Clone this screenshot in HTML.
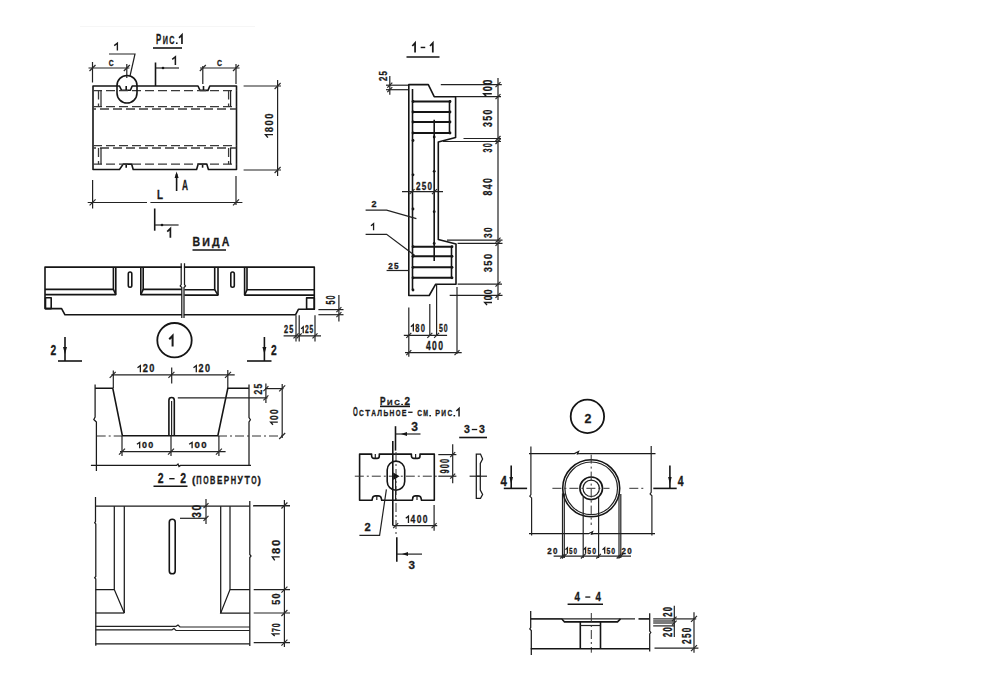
<!DOCTYPE html>
<html><head><meta charset="utf-8"><style>
html,body{margin:0;padding:0;background:#fff;width:990px;height:683px;overflow:hidden}
svg{display:block}
.o{fill:none;stroke:#151515;stroke-width:1.6;stroke-linejoin:round}
.rb{fill:none;stroke:#151515;stroke-width:2.1}
.m{fill:none;stroke:#1a1a1a;stroke-width:1.25}
.ot2{fill:none;stroke:#151515;stroke-width:1.8}
.ot{fill:none;stroke:#151515;stroke-width:2.4}
.d{fill:none;stroke:#222;stroke-width:1.2}
.k{fill:none;stroke:#2a2a2a;stroke-width:1.2}
.dash{fill:none;stroke:#3a3a3a;stroke-width:1.3;stroke-dasharray:9 4}
.dd{fill:none;stroke:#333;stroke-width:1;stroke-dasharray:9 3 2 3}
.f{fill:#151515;stroke:none}
.t{font-family:"Liberation Sans",sans-serif;fill:#1a1a1a;font-weight:bold;stroke:#1a1a1a;stroke-width:0.3}
</style></head><body>
<svg width="990" height="683" viewBox="0 0 990 683">
<line x1="80" y1="26.5" x2="255" y2="26.5" stroke="#f6f6f6" stroke-width="1.2"/>
<g transform="translate(156,44)" class="t"><text x="0.00" y="0" font-size="14.29" textLength="5.20" lengthAdjust="spacingAndGlyphs">Р</text><text x="6.66" y="0" font-size="10.57" textLength="5.20" lengthAdjust="spacingAndGlyphs">И</text><text x="13.33" y="0" font-size="10.57" textLength="5.20" lengthAdjust="spacingAndGlyphs">С</text><rect x="19.95" y="-1.60" width="1.62" height="1.60" class="f"/><path d="M25.96,0 V-9.15 L23.05,-6.20" fill="none" stroke-width="1.70" stroke-linecap="butt" stroke-linejoin="miter"/></g>
<line x1="153" y1="48" x2="182" y2="48" class="o"/>
<g transform="translate(114,50.6)" class="t"><path d="M3.38,0 V-7.41 L0.23,-5.02" fill="none" stroke-width="1.38" stroke-linecap="butt" stroke-linejoin="miter"/></g>
<polyline points="109,54 135,54 130,76" class="d"/>
<line x1="88.5" y1="68" x2="129.4" y2="68" class="d"/>
<line x1="92.5" y1="62" x2="92.5" y2="82.5" class="d"/>
<line x1="126.8" y1="64" x2="126.8" y2="78" class="d"/>
<line x1="89.5" y1="71" x2="95.5" y2="65" class="k"/>
<line x1="123.8" y1="71" x2="129.8" y2="65" class="k"/>
<g transform="translate(108.7,65.5)" class="t"><text x="0.00" y="0" font-size="8.57" textLength="4.90" lengthAdjust="spacingAndGlyphs">C</text></g>
<line x1="155.5" y1="62.5" x2="155.5" y2="86" class="o"/>
<line x1="155.5" y1="68" x2="179" y2="68" class="d"/>
<circle cx="163" cy="68" r="1.3" class="f"/>
<g transform="translate(172,65)" class="t"><path d="M3.38,0 V-8.23 L0.23,-5.58" fill="none" stroke-width="1.53" stroke-linecap="butt" stroke-linejoin="miter"/></g>
<line x1="200" y1="68" x2="239.6" y2="68" class="d"/>
<line x1="202.8" y1="66" x2="202.8" y2="84" class="d"/>
<line x1="236" y1="64" x2="236" y2="84" class="d"/>
<line x1="199.8" y1="71" x2="205.8" y2="65" class="k"/>
<line x1="233" y1="71" x2="239" y2="65" class="k"/>
<g transform="translate(217,65.5)" class="t"><text x="0.00" y="0" font-size="8.71" textLength="5.00" lengthAdjust="spacingAndGlyphs">C</text></g>
<path d="M93,86 H119.5 L121.6,90.3 H130.4 L132.2,86 H198 L200,90.4 H208 L209.8,86 H236.5 V169.5 H208.4 L206.8,164.1 H198.2 L196.6,169.5 H133.2 L131.6,164.1 H123.2 L119.5,169.5 H93 Z" class="o"/>
<line x1="126.2" y1="86" x2="126.2" y2="90" class="o"/>
<line x1="203.5" y1="86" x2="203.5" y2="90" class="o"/>
<line x1="126.2" y1="164.1" x2="126.2" y2="167.7" class="o"/>
<line x1="202.6" y1="164.1" x2="202.6" y2="167.7" class="o"/>
<line x1="93" y1="90.6" x2="236.5" y2="90.6" class="dash" stroke-dashoffset="0"/>
<line x1="93" y1="106.7" x2="236.5" y2="106.7" class="dash" stroke-dashoffset="0"/>
<line x1="93" y1="109" x2="236.5" y2="109" class="dash" stroke-dashoffset="6"/>
<line x1="93" y1="145.6" x2="236.5" y2="145.6" class="dash" stroke-dashoffset="0"/>
<line x1="93" y1="148" x2="236.5" y2="148" class="dash" stroke-dashoffset="6"/>
<line x1="93" y1="164.2" x2="236.5" y2="164.2" class="dash" stroke-dashoffset="0"/>
<line x1="98.5" y1="90.6" x2="98.5" y2="106.7" class="dash"/>
<line x1="101" y1="90.6" x2="101" y2="106.7" class="d"/>
<line x1="228.6" y1="90.6" x2="228.6" y2="106.7" class="dash"/>
<line x1="230.6" y1="90.6" x2="230.6" y2="106.7" class="d"/>
<line x1="98.5" y1="148" x2="98.5" y2="164.2" class="dash"/>
<line x1="101" y1="148" x2="101" y2="164.2" class="d"/>
<line x1="228.6" y1="148" x2="228.6" y2="164.2" class="dash"/>
<line x1="230.6" y1="148" x2="230.6" y2="164.2" class="d"/>
<path d="M117,85.5 A10,10 0 0 1 137,85.5 V93 A10,10 0 0 1 117,93 Z" class="o"/>
<line x1="277.6" y1="80" x2="277.6" y2="176" class="d"/>
<line x1="243.6" y1="86" x2="281" y2="86" class="d"/>
<line x1="243.6" y1="170" x2="281" y2="170" class="d"/>
<line x1="274.6" y1="89" x2="280.6" y2="83" class="k"/>
<line x1="274.6" y1="173" x2="280.6" y2="167" class="k"/>
<g transform="translate(273,137.8) rotate(-90)" class="t"><path d="M3.16,0 V-7.50 L0.21,-5.08" fill="none" stroke-width="1.39" stroke-linecap="butt" stroke-linejoin="miter"/><text x="5.55" y="0" font-size="11.71" textLength="5.26" lengthAdjust="spacingAndGlyphs">8</text><text x="12.29" y="0" font-size="11.71" textLength="5.26" lengthAdjust="spacingAndGlyphs">0</text><text x="19.04" y="0" font-size="11.71" textLength="5.26" lengthAdjust="spacingAndGlyphs">0</text></g>
<line x1="176.6" y1="174" x2="176.6" y2="191" class="o"/>
<path d="M176.6,171.5 L174.6,178 L178.6,178 Z" class="f"/>
<g transform="translate(182,190)" class="t"><text x="0.00" y="0" font-size="14.29" textLength="6.00" lengthAdjust="spacingAndGlyphs">A</text></g>
<line x1="87.7" y1="202.5" x2="147" y2="202.5" class="d"/>
<line x1="150.4" y1="202.5" x2="242.4" y2="202.5" class="d"/>
<line x1="92.6" y1="180" x2="92.6" y2="208.5" class="d"/>
<line x1="236" y1="176" x2="236" y2="205" class="d"/>
<line x1="89.6" y1="205.4" x2="95.6" y2="199.4" class="k"/>
<line x1="233" y1="205.4" x2="239" y2="199.4" class="k"/>
<g transform="translate(157,199)" class="t"><text x="0.00" y="0" font-size="12.86" textLength="6.00" lengthAdjust="spacingAndGlyphs">L</text></g>
<line x1="154.7" y1="208.5" x2="154.7" y2="230.7" class="o"/>
<line x1="154.7" y1="225" x2="178.6" y2="225" class="d"/>
<circle cx="162" cy="225" r="1.3" class="f"/>
<g transform="translate(167,237.8)" class="t"><path d="M3.38,0 V-9.24 L0.23,-6.26" fill="none" stroke-width="1.72" stroke-linecap="butt" stroke-linejoin="miter"/></g>
<g transform="translate(192.5,245.8)" class="t"><text x="0.00" y="0" font-size="13.57" textLength="7.63" lengthAdjust="spacingAndGlyphs">В</text><text x="9.79" y="0" font-size="10.04" textLength="7.63" lengthAdjust="spacingAndGlyphs">И</text><text x="19.58" y="0" font-size="10.04" textLength="7.63" lengthAdjust="spacingAndGlyphs">Д</text><text x="29.37" y="0" font-size="13.57" textLength="7.63" lengthAdjust="spacingAndGlyphs">А</text></g>
<line x1="192.5" y1="250" x2="226" y2="250" class="o"/>
<path d="M45,267.1 H314.3 V309.3 H298.4 L295.5,314.8 H65 L61.6,308.6 H45 Z" class="o"/>
<rect x="45.5" y="297.8" width="5.7" height="10.8" rx="0" class="o"/>
<rect x="306.6" y="297.9" width="7.7" height="11.3" rx="0" class="o"/>
<polyline points="45,289.4 113.4,289.4 113.4,267.1" class="o"/>
<polyline points="45,294.6 115.8,294.6 115.8,267.1" class="o"/>
<polyline points="182,289.4 143.2,289.4 143.2,267.1" class="o"/>
<polyline points="182,294.6 140.8,294.6 140.8,267.1" class="o"/>
<polyline points="184.4,289.7 214.7,289.7 214.7,267.1" class="o"/>
<polyline points="184.4,295.1 218,295.1 218,267.1" class="o"/>
<polyline points="314,289.7 247,289.7 247,267.1" class="o"/>
<polyline points="314,295.1 244.6,295.1 244.6,267.1" class="o"/>
<line x1="113.4" y1="289.4" x2="115.8" y2="294.6" class="o"/>
<line x1="143.2" y1="289.4" x2="140.8" y2="294.6" class="o"/>
<line x1="214.7" y1="289.7" x2="218" y2="295.1" class="o"/>
<line x1="247" y1="289.7" x2="244.6" y2="295.1" class="o"/>
<rect x="128.3" y="272" width="3.5" height="15.3" rx="1.7" class="o"/>
<rect x="230.8" y="272" width="3.5" height="15.3" rx="1.7" class="o"/>
<rect x="181.9" y="262" width="2" height="56" fill="#fff"/>
<path d="M181.2,263.3 V284.5 L180.2,286 L181.8,287.5 V317.9" class="m"/>
<path d="M184.5,263.3 V284.5 L185.5,286 L184,287.5 V317.9" class="m"/>
<line x1="318.4" y1="309.6" x2="343.5" y2="309.6" class="d"/>
<line x1="318.4" y1="314.7" x2="343.5" y2="314.7" class="d"/>
<line x1="338.9" y1="294.9" x2="338.9" y2="321.5" class="d"/>
<line x1="336.4" y1="312.1" x2="341.4" y2="307.1" class="k"/>
<line x1="336.4" y1="317.2" x2="341.4" y2="312.2" class="k"/>
<g transform="translate(335.3,304.6) rotate(-90)" class="t"><text x="0.00" y="0" font-size="12.43" textLength="4.03" lengthAdjust="spacingAndGlyphs">5</text><text x="5.17" y="0" font-size="12.43" textLength="4.03" lengthAdjust="spacingAndGlyphs">0</text></g>
<line x1="296" y1="315.3" x2="296" y2="341.5" class="d"/>
<line x1="299.2" y1="315.3" x2="299.2" y2="341.5" class="d"/>
<line x1="315" y1="315.3" x2="315" y2="341.5" class="d"/>
<line x1="283.6" y1="335.8" x2="321" y2="335.8" class="d"/>
<line x1="293.5" y1="338.3" x2="298.5" y2="333.3" class="k"/>
<line x1="296.7" y1="338.3" x2="301.7" y2="333.3" class="k"/>
<line x1="312.5" y1="338.3" x2="317.5" y2="333.3" class="k"/>
<g transform="translate(284,333.3)" class="t"><text x="0.00" y="0" font-size="10.29" textLength="4.08" lengthAdjust="spacingAndGlyphs">2</text><text x="5.22" y="0" font-size="10.29" textLength="4.08" lengthAdjust="spacingAndGlyphs">5</text></g>
<g transform="translate(301,333.3)" class="t"><path d="M2.21,0 V-6.55 L0.15,-4.46" fill="none" stroke-width="1.30" stroke-linecap="butt" stroke-linejoin="miter"/><text x="3.89" y="0" font-size="10.29" textLength="3.69" lengthAdjust="spacingAndGlyphs">2</text><text x="8.61" y="0" font-size="10.29" textLength="3.69" lengthAdjust="spacingAndGlyphs">5</text></g>
<circle cx="174.5" cy="340.2" r="17.2" class="ot2"/>
<g transform="translate(169,346.5)" class="t"><path d="M3.60,0 V-10.80 L0.24,-7.32" fill="none" stroke-width="2.01" stroke-linecap="butt" stroke-linejoin="miter"/></g>
<g transform="translate(50.5,354.9)" class="t"><text x="0.00" y="0" font-size="14.14" textLength="5.70" lengthAdjust="spacingAndGlyphs">2</text></g>
<line x1="65" y1="337" x2="65" y2="361" class="o"/>
<path d="M65,354 L63,347 L67,347 Z" class="f"/>
<line x1="58" y1="361" x2="82" y2="361" class="o"/>
<line x1="264.4" y1="337" x2="264.4" y2="361" class="o"/>
<path d="M264.4,354 L262.4,347 L266.4,347 Z" class="f"/>
<line x1="247" y1="361" x2="271.5" y2="361" class="o"/>
<g transform="translate(271,355)" class="t"><text x="0.00" y="0" font-size="14.29" textLength="5.70" lengthAdjust="spacingAndGlyphs">2</text></g>
<line x1="111.4" y1="374.8" x2="234.7" y2="374.8" class="d"/>
<line x1="109.7" y1="377.8" x2="115.7" y2="371.8" class="k"/>
<line x1="168.4" y1="377.8" x2="174.4" y2="371.8" class="k"/>
<line x1="225" y1="377.8" x2="231" y2="371.8" class="k"/>
<g transform="translate(137.3,372.2)" class="t"><path d="M3.08,0 V-6.55 L0.21,-4.46" fill="none" stroke-width="1.30" stroke-linecap="butt" stroke-linejoin="miter"/><text x="5.40" y="0" font-size="10.29" textLength="5.13" lengthAdjust="spacingAndGlyphs">2</text><text x="11.97" y="0" font-size="10.29" textLength="5.13" lengthAdjust="spacingAndGlyphs">0</text></g>
<g transform="translate(193.3,372.2)" class="t"><path d="M3.00,0 V-6.55 L0.20,-4.46" fill="none" stroke-width="1.30" stroke-linecap="butt" stroke-linejoin="miter"/><text x="5.28" y="0" font-size="10.29" textLength="5.01" lengthAdjust="spacingAndGlyphs">2</text><text x="11.69" y="0" font-size="10.29" textLength="5.01" lengthAdjust="spacingAndGlyphs">0</text></g>
<line x1="113.3" y1="370.5" x2="113.3" y2="388" class="d"/>
<line x1="227.8" y1="370" x2="227.8" y2="388" class="d"/>
<line x1="171.7" y1="367.6" x2="171.7" y2="383.6" class="d"/>
<polyline points="95.1,388.3 112.8,388.3 122.4,435.8 217.8,435.8 227.8,388.3 248.9,388.3" class="o"/>
<path d="M95.1,384.4 V417 L93.8,419.5 L96.4,422 V471" class="m"/>
<path d="M249,384.4 V417.5 L250.4,419.8 L249,422 V465.4" class="m"/>
<line x1="96.7" y1="436" x2="122" y2="436" class="dd"/>
<line x1="218" y1="436" x2="282" y2="436" class="dd"/>
<path d="M90.9,465.4 H176.5 L178,464 L179,466.5 L180.5,465.4 H251" class="m"/>
<path d="M168.9,436 V400.2 A2.7,2.7 0 0 1 174.3,400.2 V436" class="o"/>
<line x1="171.6" y1="401" x2="171.6" y2="436" class="d"/>
<line x1="177.8" y1="397.9" x2="267.5" y2="397.9" class="d"/>
<line x1="265.9" y1="383.6" x2="265.9" y2="403" class="d"/>
<line x1="265" y1="388.6" x2="283.5" y2="388.6" class="d"/>
<line x1="263.4" y1="391.1" x2="268.4" y2="386.1" class="k"/>
<line x1="263.4" y1="400.4" x2="268.4" y2="395.4" class="k"/>
<g transform="translate(261.6,394.5) rotate(-90)" class="t"><text x="0.00" y="0" font-size="11.43" textLength="4.78" lengthAdjust="spacingAndGlyphs">2</text><text x="6.12" y="0" font-size="11.43" textLength="4.78" lengthAdjust="spacingAndGlyphs">5</text></g>
<line x1="282.2" y1="384" x2="282.2" y2="438" class="d"/>
<line x1="279.2" y1="391.3" x2="285.2" y2="385.3" class="k"/>
<line x1="279.2" y1="439" x2="285.2" y2="433" class="k"/>
<g transform="translate(277.8,425) rotate(-90)" class="t"><path d="M2.81,0 V-7.14 L0.19,-4.84" fill="none" stroke-width="1.33" stroke-linecap="butt" stroke-linejoin="miter"/><text x="4.93" y="0" font-size="11.14" textLength="4.68" lengthAdjust="spacingAndGlyphs">0</text><text x="10.92" y="0" font-size="11.14" textLength="4.68" lengthAdjust="spacingAndGlyphs">0</text></g>
<line x1="120" y1="451.7" x2="225.6" y2="451.7" class="d"/>
<line x1="122" y1="436" x2="122" y2="456" class="d"/>
<line x1="119" y1="454.7" x2="125" y2="448.7" class="k"/>
<line x1="171" y1="436" x2="171" y2="456" class="d"/>
<line x1="168" y1="454.7" x2="174" y2="448.7" class="k"/>
<line x1="218.9" y1="436" x2="218.9" y2="456" class="d"/>
<line x1="215.9" y1="454.7" x2="221.9" y2="448.7" class="k"/>
<g transform="translate(136.7,448.3)" class="t"><path d="M2.99,0 V-5.95 L0.20,-4.09" fill="none" stroke-width="1.30" stroke-linecap="butt" stroke-linejoin="miter"/><text x="5.24" y="0" font-size="9.43" textLength="4.98" lengthAdjust="spacingAndGlyphs">0</text><text x="11.62" y="0" font-size="9.43" textLength="4.98" lengthAdjust="spacingAndGlyphs">0</text></g>
<g transform="translate(188.9,448.3)" class="t"><path d="M3.20,0 V-5.95 L0.21,-4.09" fill="none" stroke-width="1.30" stroke-linecap="butt" stroke-linejoin="miter"/><text x="5.62" y="0" font-size="9.43" textLength="5.34" lengthAdjust="spacingAndGlyphs">0</text><text x="12.46" y="0" font-size="9.43" textLength="5.34" lengthAdjust="spacingAndGlyphs">0</text></g>
<g transform="translate(157.8,483.4)" class="t"><text x="0.00" y="0" font-size="14.00" textLength="5.82" lengthAdjust="spacingAndGlyphs">2</text><rect x="11.41" y="-5.39" width="5.37" height="1.37" class="f"/><text x="22.38" y="0" font-size="14.00" textLength="5.82" lengthAdjust="spacingAndGlyphs">2</text></g>
<line x1="153.5" y1="486.3" x2="187.5" y2="486.3" class="o"/>
<g transform="translate(192,483.6)" class="t"><text x="0.00" y="0" font-size="10.57" textLength="3.40" lengthAdjust="spacingAndGlyphs">(</text><text x="4.34" y="0" font-size="10.57" textLength="5.36" lengthAdjust="spacingAndGlyphs">П</text><text x="11.21" y="0" font-size="10.57" textLength="5.36" lengthAdjust="spacingAndGlyphs">О</text><text x="18.08" y="0" font-size="10.57" textLength="5.36" lengthAdjust="spacingAndGlyphs">В</text><text x="24.95" y="0" font-size="10.57" textLength="5.36" lengthAdjust="spacingAndGlyphs">Е</text><text x="31.82" y="0" font-size="10.57" textLength="5.36" lengthAdjust="spacingAndGlyphs">Р</text><text x="38.69" y="0" font-size="10.57" textLength="5.36" lengthAdjust="spacingAndGlyphs">Н</text><text x="45.56" y="0" font-size="10.57" textLength="5.36" lengthAdjust="spacingAndGlyphs">У</text><text x="52.43" y="0" font-size="10.57" textLength="5.36" lengthAdjust="spacingAndGlyphs">Т</text><text x="59.30" y="0" font-size="10.57" textLength="5.36" lengthAdjust="spacingAndGlyphs">О</text><text x="65.60" y="0" font-size="10.57" textLength="3.40" lengthAdjust="spacingAndGlyphs">)</text></g>
<line x1="95.5" y1="506.2" x2="249.5" y2="506.2" class="m"/>
<line x1="253" y1="505.8" x2="290" y2="505.8" class="d"/>
<path d="M95.5,497 V521.5 L94.7,522.8 L95.8,524 V576.5 L94.7,577.8 L95.8,579 V645.7" class="m"/>
<path d="M249.8,501 V554.5 L251,556 L249.8,557.5 V646" class="m"/>
<line x1="114.3" y1="506.2" x2="114.3" y2="589.5" class="m"/>
<polyline points="95.5,589.5 114.3,589.5 124.3,613" class="m"/>
<line x1="124.3" y1="506.2" x2="124.3" y2="613" class="m"/>
<line x1="95.5" y1="613" x2="124.3" y2="613" class="m"/>
<line x1="220.7" y1="506.2" x2="220.7" y2="613" class="m"/>
<line x1="230" y1="506.2" x2="230" y2="589.5" class="m"/>
<polyline points="249.8,589.5 230,589.5 220.7,613 249.8,613" class="m"/>
<path d="M95.5,626.3 H176 L178,625 L180,627 H249.8" class="d"/>
<path d="M95.5,629.8 H172 L174,628.5 L176,630.5 H249.8" class="d"/>
<line x1="95.5" y1="643.9" x2="249.8" y2="643.9" class="m"/>
<rect x="169.3" y="519.3" width="5.9" height="54.5" rx="2.9" class="o"/>
<line x1="206" y1="499" x2="206" y2="524" class="d"/>
<line x1="180" y1="518.3" x2="206" y2="518.3" class="d"/>
<line x1="203.5" y1="508.2" x2="208.5" y2="503.2" class="k"/>
<line x1="203.5" y1="520.8" x2="208.5" y2="515.8" class="k"/>
<g transform="translate(201.3,517.8) rotate(-90)" class="t"><text x="0.00" y="0" font-size="12.29" textLength="5.61" lengthAdjust="spacingAndGlyphs">3</text><text x="7.19" y="0" font-size="12.29" textLength="5.61" lengthAdjust="spacingAndGlyphs">0</text></g>
<line x1="284.4" y1="500" x2="284.4" y2="647" class="d"/>
<line x1="253.7" y1="505.5" x2="290" y2="505.5" class="d"/>
<line x1="281.4" y1="508.5" x2="287.4" y2="502.5" class="k"/>
<line x1="253.7" y1="589.7" x2="290" y2="589.7" class="d"/>
<line x1="281.4" y1="592.7" x2="287.4" y2="586.7" class="k"/>
<line x1="253.7" y1="613" x2="290" y2="613" class="d"/>
<line x1="281.4" y1="616" x2="287.4" y2="610" class="k"/>
<line x1="253.7" y1="642.6" x2="290" y2="642.6" class="d"/>
<line x1="281.4" y1="645.6" x2="287.4" y2="639.6" class="k"/>
<g transform="translate(279.7,560.6) rotate(-90)" class="t"><path d="M3.74,0 V-7.32 L0.25,-4.96" fill="none" stroke-width="1.36" stroke-linecap="butt" stroke-linejoin="miter"/><text x="6.57" y="0" font-size="11.43" textLength="6.24" lengthAdjust="spacingAndGlyphs">8</text><text x="14.56" y="0" font-size="11.43" textLength="6.24" lengthAdjust="spacingAndGlyphs">0</text></g>
<g transform="translate(279.7,604.8) rotate(-90)" class="t"><text x="0.00" y="0" font-size="11.43" textLength="5.00" lengthAdjust="spacingAndGlyphs">5</text><text x="6.40" y="0" font-size="11.43" textLength="5.00" lengthAdjust="spacingAndGlyphs">0</text></g>
<g transform="translate(279.7,636.2) rotate(-90)" class="t"><path d="M2.32,0 V-7.32 L0.15,-4.96" fill="none" stroke-width="1.36" stroke-linecap="butt" stroke-linejoin="miter"/><text x="4.08" y="0" font-size="11.43" textLength="3.87" lengthAdjust="spacingAndGlyphs">7</text><text x="9.03" y="0" font-size="11.43" textLength="3.87" lengthAdjust="spacingAndGlyphs">0</text></g>
<g transform="translate(412.1,52.4)" class="t"><path d="M2.97,0 V-9.42 L0.20,-6.39" fill="none" stroke-width="1.75" stroke-linecap="butt" stroke-linejoin="miter"/><rect x="8.57" y="-5.66" width="4.56" height="1.44" class="f"/><path d="M20.71,0 V-9.42 L17.94,-6.39" fill="none" stroke-width="1.75" stroke-linecap="butt" stroke-linejoin="miter"/></g>
<line x1="406.5" y1="57" x2="439.5" y2="57" class="o"/>
<path d="M408.8,84.6 H428.3 L434.2,96.7 H455.6 V137.4 L438.3,142 V239.5 L456,244 V284.2 H435.7 L429.2,295.5 H408.8 Z" class="o"/>
<line x1="412.5" y1="89" x2="412.5" y2="290" class="o"/>
<line x1="434.2" y1="119.8" x2="434.2" y2="260.9" class="o"/>
<line x1="412" y1="101.5" x2="451" y2="101.5" class="rb"/>
<line x1="412" y1="112" x2="451" y2="112" class="rb"/>
<line x1="412" y1="122" x2="451" y2="122" class="rb"/>
<line x1="412" y1="133" x2="451" y2="133" class="rb"/>
<line x1="449.5" y1="101" x2="449.5" y2="133" class="o"/>
<line x1="412.5" y1="246.7" x2="452.6" y2="246.7" class="rb"/>
<line x1="412.5" y1="256.3" x2="452.6" y2="256.3" class="rb"/>
<line x1="412.5" y1="267.3" x2="452.6" y2="267.3" class="rb"/>
<line x1="412.5" y1="277.8" x2="452.6" y2="277.8" class="rb"/>
<line x1="451.5" y1="246.7" x2="451.5" y2="277.8" class="o"/>
<circle cx="413" cy="101.5" r="1.4" class="f"/>
<circle cx="413" cy="112" r="1.4" class="f"/>
<circle cx="413" cy="122" r="1.4" class="f"/>
<circle cx="413" cy="133" r="1.4" class="f"/>
<circle cx="413" cy="246.7" r="1.4" class="f"/>
<circle cx="413" cy="256.3" r="1.4" class="f"/>
<circle cx="413" cy="267.3" r="1.4" class="f"/>
<circle cx="413" cy="277.8" r="1.4" class="f"/>
<circle cx="413" cy="140.5" r="1.4" class="f"/>
<circle cx="413" cy="174.8" r="1.4" class="f"/>
<circle cx="413" cy="209" r="1.4" class="f"/>
<circle cx="413" cy="290" r="1.4" class="f"/>
<circle cx="434.2" cy="137" r="1.4" class="f"/>
<circle cx="434.2" cy="171.3" r="1.4" class="f"/>
<circle cx="434.2" cy="211.7" r="1.4" class="f"/>
<circle cx="434.2" cy="243.4" r="1.4" class="f"/>
<circle cx="450" cy="101.5" r="1.4" class="f"/>
<circle cx="450" cy="112" r="1.4" class="f"/>
<circle cx="450" cy="122" r="1.4" class="f"/>
<circle cx="450" cy="133" r="1.4" class="f"/>
<circle cx="452" cy="246.7" r="1.4" class="f"/>
<circle cx="452" cy="256.3" r="1.4" class="f"/>
<circle cx="452" cy="267.3" r="1.4" class="f"/>
<circle cx="452" cy="277.8" r="1.4" class="f"/>
<line x1="440.8" y1="84.6" x2="501.8" y2="84.6" class="d"/>
<line x1="456" y1="96.7" x2="501" y2="96.7" class="d"/>
<line x1="463.5" y1="138.5" x2="501" y2="138.5" class="d"/>
<line x1="443" y1="141.5" x2="501" y2="141.5" class="d"/>
<line x1="447" y1="240.2" x2="502.5" y2="240.2" class="d"/>
<line x1="457.6" y1="243.3" x2="502.5" y2="243.3" class="d"/>
<line x1="457.6" y1="284.2" x2="502" y2="284.2" class="d"/>
<line x1="449.7" y1="295.3" x2="502.5" y2="295.3" class="d"/>
<line x1="498" y1="78" x2="498" y2="300" class="d"/>
<line x1="495.5" y1="87.1" x2="500.5" y2="82.1" class="k"/>
<line x1="495.5" y1="99.2" x2="500.5" y2="94.2" class="k"/>
<line x1="495.5" y1="141.0" x2="500.5" y2="136.0" class="k"/>
<line x1="495.5" y1="144.0" x2="500.5" y2="139.0" class="k"/>
<line x1="495.5" y1="242.7" x2="500.5" y2="237.7" class="k"/>
<line x1="495.5" y1="245.8" x2="500.5" y2="240.8" class="k"/>
<line x1="495.5" y1="286.7" x2="500.5" y2="281.7" class="k"/>
<line x1="495.5" y1="297.8" x2="500.5" y2="292.8" class="k"/>
<g transform="translate(491.8,96.7) rotate(-90)" class="t"><path d="M3.04,0 V-8.05 L0.20,-5.46" fill="none" stroke-width="1.50" stroke-linecap="butt" stroke-linejoin="miter"/><text x="5.34" y="0" font-size="12.57" textLength="5.07" lengthAdjust="spacingAndGlyphs">0</text><text x="11.83" y="0" font-size="12.57" textLength="5.07" lengthAdjust="spacingAndGlyphs">0</text></g>
<g transform="translate(492,127) rotate(-90)" class="t"><text x="0.00" y="0" font-size="12.86" textLength="4.88" lengthAdjust="spacingAndGlyphs">3</text><text x="6.26" y="0" font-size="12.86" textLength="4.88" lengthAdjust="spacingAndGlyphs">5</text><text x="12.52" y="0" font-size="12.86" textLength="4.88" lengthAdjust="spacingAndGlyphs">0</text></g>
<g transform="translate(492,152.4) rotate(-90)" class="t"><text x="0.00" y="0" font-size="12.86" textLength="4.03" lengthAdjust="spacingAndGlyphs">3</text><text x="5.17" y="0" font-size="12.86" textLength="4.03" lengthAdjust="spacingAndGlyphs">0</text></g>
<g transform="translate(492,195.4) rotate(-90)" class="t"><text x="0.00" y="0" font-size="12.86" textLength="4.88" lengthAdjust="spacingAndGlyphs">8</text><text x="6.26" y="0" font-size="12.86" textLength="4.88" lengthAdjust="spacingAndGlyphs">4</text><text x="12.52" y="0" font-size="12.86" textLength="4.88" lengthAdjust="spacingAndGlyphs">0</text></g>
<g transform="translate(492,238) rotate(-90)" class="t"><text x="0.00" y="0" font-size="11.43" textLength="4.60" lengthAdjust="spacingAndGlyphs">3</text><text x="5.90" y="0" font-size="11.43" textLength="4.60" lengthAdjust="spacingAndGlyphs">0</text></g>
<g transform="translate(492,272.3) rotate(-90)" class="t"><text x="0.00" y="0" font-size="11.43" textLength="5.16" lengthAdjust="spacingAndGlyphs">3</text><text x="6.62" y="0" font-size="11.43" textLength="5.16" lengthAdjust="spacingAndGlyphs">5</text><text x="13.24" y="0" font-size="11.43" textLength="5.16" lengthAdjust="spacingAndGlyphs">0</text></g>
<g transform="translate(492,305.3) rotate(-90)" class="t"><path d="M2.84,0 V-7.32 L0.19,-4.96" fill="none" stroke-width="1.36" stroke-linecap="butt" stroke-linejoin="miter"/><text x="4.99" y="0" font-size="11.43" textLength="4.74" lengthAdjust="spacingAndGlyphs">0</text><text x="11.06" y="0" font-size="11.43" textLength="4.74" lengthAdjust="spacingAndGlyphs">0</text></g>
<g transform="translate(387.4,81) rotate(-90)" class="t"><text x="0.00" y="0" font-size="10.57" textLength="4.38" lengthAdjust="spacingAndGlyphs">2</text><text x="5.62" y="0" font-size="10.57" textLength="4.38" lengthAdjust="spacingAndGlyphs">5</text></g>
<line x1="386" y1="85.2" x2="408" y2="85.2" class="d"/>
<line x1="386" y1="89.7" x2="408" y2="89.7" class="d"/>
<line x1="389.8" y1="76" x2="389.8" y2="94.7" class="d"/>
<line x1="387.3" y1="87.7" x2="392.3" y2="82.7" class="k"/>
<line x1="387.3" y1="92.2" x2="392.3" y2="87.2" class="k"/>
<g transform="translate(416,190.4)" class="t"><text x="0.00" y="0" font-size="10.57" textLength="4.49" lengthAdjust="spacingAndGlyphs">2</text><text x="5.76" y="0" font-size="10.57" textLength="4.49" lengthAdjust="spacingAndGlyphs">5</text><text x="11.51" y="0" font-size="10.57" textLength="4.49" lengthAdjust="spacingAndGlyphs">0</text></g>
<line x1="402" y1="191.7" x2="443" y2="191.7" class="d"/>
<line x1="409.5" y1="194.2" x2="414.5" y2="189.2" class="k"/>
<line x1="432.0" y1="194.2" x2="437.0" y2="189.2" class="k"/>
<g transform="translate(371.5,206.9)" class="t"><text x="0.00" y="0" font-size="9.14" textLength="5.00" lengthAdjust="spacingAndGlyphs">2</text></g>
<polyline points="365.6,210.1 386.6,210.1 416.4,218.7" class="d"/>
<g transform="translate(370.8,230.3)" class="t"><path d="M2.77,0 V-6.65 L0.18,-4.53" fill="none" stroke-width="1.30" stroke-linecap="butt" stroke-linejoin="miter"/></g>
<polyline points="365.6,234.3 386.6,234.3 414.8,255.5" class="d"/>
<g transform="translate(388.2,268.9)" class="t"><text x="0.00" y="0" font-size="9.14" textLength="4.56" lengthAdjust="spacingAndGlyphs">2</text><text x="5.84" y="0" font-size="9.14" textLength="4.56" lengthAdjust="spacingAndGlyphs">5</text></g>
<line x1="386.6" y1="270.5" x2="408.8" y2="270.5" class="d"/>
<line x1="408.8" y1="307.5" x2="408.8" y2="356.7" class="d"/>
<line x1="429.8" y1="304" x2="429.8" y2="335.5" class="d"/>
<line x1="436.6" y1="284" x2="436.6" y2="335.5" class="d"/>
<line x1="457" y1="287" x2="457" y2="353.8" class="d"/>
<line x1="403.8" y1="335.3" x2="447.1" y2="335.3" class="d"/>
<line x1="406.3" y1="337.8" x2="411.3" y2="332.8" class="k"/>
<line x1="427.3" y1="337.8" x2="432.3" y2="332.8" class="k"/>
<line x1="434.1" y1="337.8" x2="439.1" y2="332.8" class="k"/>
<g transform="translate(410.8,331.5)" class="t"><path d="M2.54,0 V-6.95 L0.17,-4.71" fill="none" stroke-width="1.30" stroke-linecap="butt" stroke-linejoin="miter"/><text x="4.45" y="0" font-size="10.86" textLength="4.23" lengthAdjust="spacingAndGlyphs">8</text><text x="9.87" y="0" font-size="10.86" textLength="4.23" lengthAdjust="spacingAndGlyphs">0</text></g>
<g transform="translate(438.9,331.5)" class="t"><text x="0.00" y="0" font-size="10.86" textLength="3.86" lengthAdjust="spacingAndGlyphs">5</text><text x="4.94" y="0" font-size="10.86" textLength="3.86" lengthAdjust="spacingAndGlyphs">0</text></g>
<line x1="405" y1="352.6" x2="461.7" y2="352.6" class="d"/>
<line x1="406.3" y1="355.1" x2="411.3" y2="350.1" class="k"/>
<line x1="454.5" y1="355.1" x2="459.5" y2="350.1" class="k"/>
<g transform="translate(426,350.3)" class="t"><text x="0.00" y="0" font-size="11.86" textLength="4.77" lengthAdjust="spacingAndGlyphs">4</text><text x="6.12" y="0" font-size="11.86" textLength="4.77" lengthAdjust="spacingAndGlyphs">0</text><text x="12.23" y="0" font-size="11.86" textLength="4.77" lengthAdjust="spacingAndGlyphs">0</text></g>
<g transform="translate(380,405)" class="t"><text x="0.00" y="0" font-size="10.14" textLength="5.53" lengthAdjust="spacingAndGlyphs">Р</text><text x="7.09" y="0" font-size="7.51" textLength="5.53" lengthAdjust="spacingAndGlyphs">И</text><text x="14.18" y="0" font-size="7.51" textLength="5.53" lengthAdjust="spacingAndGlyphs">С</text><rect x="21.23" y="-1.14" width="1.72" height="1.14" class="f"/><text x="24.47" y="0" font-size="10.14" textLength="5.53" lengthAdjust="spacingAndGlyphs">2</text></g>
<line x1="380" y1="406.4" x2="410" y2="406.4" class="o"/>
<g transform="translate(352.9,416.4)" class="t"><text x="0.00" y="0" font-size="12.43" textLength="4.77" lengthAdjust="spacingAndGlyphs">О</text><text x="6.12" y="0" font-size="9.20" textLength="4.77" lengthAdjust="spacingAndGlyphs">С</text><text x="12.24" y="0" font-size="9.20" textLength="4.77" lengthAdjust="spacingAndGlyphs">Т</text><text x="18.36" y="0" font-size="9.20" textLength="4.77" lengthAdjust="spacingAndGlyphs">А</text><text x="24.48" y="0" font-size="9.20" textLength="4.77" lengthAdjust="spacingAndGlyphs">Л</text><text x="30.60" y="0" font-size="9.20" textLength="4.77" lengthAdjust="spacingAndGlyphs">Ь</text><text x="36.72" y="0" font-size="9.20" textLength="4.77" lengthAdjust="spacingAndGlyphs">Н</text><text x="42.84" y="0" font-size="9.20" textLength="4.77" lengthAdjust="spacingAndGlyphs">О</text><text x="48.95" y="0" font-size="9.20" textLength="4.77" lengthAdjust="spacingAndGlyphs">Е</text><rect x="55.26" y="-4.78" width="4.41" height="1.30" class="f"/><text x="64.25" y="0" font-size="9.20" textLength="4.77" lengthAdjust="spacingAndGlyphs">С</text><text x="70.37" y="0" font-size="9.20" textLength="4.77" lengthAdjust="spacingAndGlyphs">М</text><rect x="76.45" y="-1.39" width="1.60" height="1.39" class="f"/><text x="82.30" y="0" font-size="9.20" textLength="4.77" lengthAdjust="spacingAndGlyphs">Р</text><text x="88.42" y="0" font-size="9.20" textLength="4.77" lengthAdjust="spacingAndGlyphs">И</text><text x="94.54" y="0" font-size="9.20" textLength="4.77" lengthAdjust="spacingAndGlyphs">С</text><rect x="100.62" y="-1.39" width="1.60" height="1.39" class="f"/><path d="M106.15,0 V-7.96 L103.47,-5.39" fill="none" stroke-width="1.48" stroke-linecap="butt" stroke-linejoin="miter"/></g>
<line x1="395.5" y1="426.2" x2="395.5" y2="450.6" class="o"/>
<line x1="395.5" y1="434" x2="420.5" y2="434" class="d"/>
<path d="M401,434 L407,432 L407,436 Z" class="f"/>
<g transform="translate(411.3,431.1)" class="t"><text x="0.00" y="0" font-size="12.71" textLength="6.70" lengthAdjust="spacingAndGlyphs">3</text></g>
<path d="M359.6,454.1 H371.6 V456 Q371.8,458.4 374,458.4 H377 Q379.3,458.4 379.3,456 V454.1 H411.4 V456 Q411.6,458.4 414,458.4 H417.6 Q420,458.4 420,456 V454.1 H434.3 V500.2 H421.5 L421,498 Q420.5,495.9 418,495.9 H415.5 Q413,495.9 412.8,498 L412.4,500.2 H381.7 L381.2,498 Q380.7,495.9 378.2,495.9 H375.5 Q373,495.9 372.5,498 L372,500.2 H359.6 Z" class="o"/>
<line x1="375.3" y1="454.1" x2="375.3" y2="458" class="d"/>
<line x1="415.6" y1="454.1" x2="415.6" y2="458" class="d"/>
<line x1="376.8" y1="496" x2="376.8" y2="500" class="d"/>
<line x1="417" y1="496" x2="417" y2="500" class="d"/>
<line x1="354.8" y1="476.2" x2="440" y2="476.2" class="dd"/>
<line x1="392.8" y1="441" x2="392.8" y2="525.4" class="o"/>
<line x1="396" y1="452" x2="396" y2="537" class="dd"/>
<path d="M387.2,469.9 A8.75,8.75 0 0 1 404.7,469.9 V481.5 A8.75,8.75 0 0 1 387.2,481.5 Z" class="o"/>
<path d="M393.2,472.5 L399.6,476.2 L393.2,480 Z" class="f"/>
<line x1="395.6" y1="476" x2="395.6" y2="500" class="d"/>
<line x1="452.7" y1="444.2" x2="452.7" y2="483.2" class="d"/>
<line x1="438.3" y1="454.6" x2="456.4" y2="454.6" class="d"/>
<line x1="438.3" y1="476.2" x2="456.4" y2="476.2" class="d"/>
<line x1="450.2" y1="457.1" x2="455.2" y2="452.1" class="k"/>
<line x1="450.2" y1="478.7" x2="455.2" y2="473.7" class="k"/>
<g transform="translate(448.8,473.4) rotate(-90)" class="t"><text x="0.00" y="0" font-size="12.00" textLength="4.10" lengthAdjust="spacingAndGlyphs">9</text><text x="5.25" y="0" font-size="12.00" textLength="4.10" lengthAdjust="spacingAndGlyphs">0</text><text x="10.50" y="0" font-size="12.00" textLength="4.10" lengthAdjust="spacingAndGlyphs">0</text></g>
<line x1="392.7" y1="525.7" x2="437.2" y2="525.7" class="d"/>
<line x1="434.1" y1="505" x2="434.1" y2="530.7" class="d"/>
<line x1="393.2" y1="528.2" x2="398.2" y2="523.2" class="k"/>
<line x1="431.6" y1="528.2" x2="436.6" y2="523.2" class="k"/>
<g transform="translate(405.6,522.9)" class="t"><path d="M2.85,0 V-6.75 L0.19,-4.59" fill="none" stroke-width="1.30" stroke-linecap="butt" stroke-linejoin="miter"/><text x="5.00" y="0" font-size="10.57" textLength="4.74" lengthAdjust="spacingAndGlyphs">4</text><text x="11.08" y="0" font-size="10.57" textLength="4.74" lengthAdjust="spacingAndGlyphs">0</text><text x="17.16" y="0" font-size="10.57" textLength="4.74" lengthAdjust="spacingAndGlyphs">0</text></g>
<g transform="translate(364.6,531.3)" class="t"><text x="0.00" y="0" font-size="10.86" textLength="6.20" lengthAdjust="spacingAndGlyphs">2</text></g>
<polyline points="359.4,535.4 379.6,535.4 386.4,489.4" class="d"/>
<line x1="396.8" y1="537.2" x2="396.8" y2="561.7" class="o"/>
<line x1="396.8" y1="554.1" x2="422" y2="554.1" class="d"/>
<path d="M402,554.1 L408,552.1 L408,556.1 Z" class="f"/>
<g transform="translate(408.5,569.4)" class="t"><text x="0.00" y="0" font-size="11.71" textLength="6.50" lengthAdjust="spacingAndGlyphs">3</text></g>
<g transform="translate(464,433.1)" class="t"><text x="0.00" y="0" font-size="11.00" textLength="5.89" lengthAdjust="spacingAndGlyphs">3</text><rect x="7.78" y="-4.24" width="5.44" height="1.30" class="f"/><text x="15.11" y="0" font-size="11.00" textLength="5.89" lengthAdjust="spacingAndGlyphs">3</text></g>
<line x1="459.2" y1="437.5" x2="487" y2="437.5" class="o"/>
<path d="M476.3,454 H480.5 L482.6,459 L480.3,463.5 V490 L482.6,494.5 L480.5,498.4 H476.3 Z" class="m"/>
<line x1="476.3" y1="476.2" x2="480.3" y2="476.2" class="d"/>
<line x1="469.6" y1="476.2" x2="487" y2="476.2" class="d"/>
<circle cx="587.4" cy="416.4" r="16.7" class="ot2"/>
<g transform="translate(584.6,422.8)" class="t"><text x="0.00" y="0" font-size="13.14" textLength="6.90" lengthAdjust="spacingAndGlyphs">2</text></g>
<path d="M529,453.5 H574.5 L578.5,451.5 L577.5,454 L580,453.5 H655.5" class="m"/>
<path d="M529,533.7 H588.5 L592.5,531.7 L591.5,534.2 L594,533.7 H655" class="m"/>
<path d="M530.9,446.4 V494.5 L529.8,496.2 L531.6,497.9 V535.5" class="d"/>
<path d="M651.2,446 V492.3 L650.1,494 L651.9,495.7 V535.5" class="d"/>
<circle cx="591.2" cy="488.3" r="28.5" class="o"/>
<circle cx="591.2" cy="488.3" r="26.3" class="d"/>
<line x1="562.5" y1="493.4" x2="562.5" y2="558" class="d"/>
<line x1="564.3" y1="493.4" x2="564.3" y2="558" class="d"/>
<line x1="619" y1="494" x2="619" y2="558" class="d"/>
<line x1="620.8" y1="494" x2="620.8" y2="558" class="d"/>
<circle cx="591.2" cy="488.3" r="11.3" class="o"/>
<circle cx="591.2" cy="488.3" r="8.2" class="d"/>
<line x1="591.2" y1="454.6" x2="591.2" y2="525" class="dd"/>
<line x1="552.4" y1="488.3" x2="609.5" y2="488.3" class="dd"/>
<line x1="629.3" y1="488.3" x2="644" y2="488.3" class="dd"/>
<line x1="583.2" y1="497" x2="583.2" y2="558" class="d"/>
<line x1="598.6" y1="497" x2="598.6" y2="558" class="d"/>
<g transform="translate(500.6,485.6)" class="t"><text x="0.00" y="0" font-size="13.71" textLength="6.40" lengthAdjust="spacingAndGlyphs">4</text></g>
<line x1="511.2" y1="465.5" x2="511.2" y2="488" class="o"/>
<path d="M511.2,484 L509.4,477 L513,477 Z" class="f"/>
<line x1="503.8" y1="488.4" x2="527.1" y2="488.4" class="o"/>
<line x1="669.9" y1="465.5" x2="669.9" y2="488" class="o"/>
<path d="M669.9,484 L668.1,477 L671.7,477 Z" class="f"/>
<line x1="653.3" y1="488.4" x2="676.7" y2="488.4" class="o"/>
<g transform="translate(677.7,485.6)" class="t"><text x="0.00" y="0" font-size="13.71" textLength="5.80" lengthAdjust="spacingAndGlyphs">4</text></g>
<line x1="553.6" y1="556.2" x2="631" y2="556.2" class="d"/>
<line x1="560.2" y1="558.5" x2="564.8" y2="553.9000000000001" class="k"/>
<line x1="562.0" y1="558.5" x2="566.5999999999999" y2="553.9000000000001" class="k"/>
<line x1="580.9000000000001" y1="558.5" x2="585.5" y2="553.9000000000001" class="k"/>
<line x1="596.3000000000001" y1="558.5" x2="600.9" y2="553.9000000000001" class="k"/>
<line x1="616.7" y1="558.5" x2="621.3" y2="553.9000000000001" class="k"/>
<line x1="618.5" y1="558.5" x2="623.0999999999999" y2="553.9000000000001" class="k"/>
<g transform="translate(547.3,553.8)" class="t"><text x="0.00" y="0" font-size="9.57" textLength="4.47" lengthAdjust="spacingAndGlyphs">2</text><text x="5.73" y="0" font-size="9.57" textLength="4.47" lengthAdjust="spacingAndGlyphs">0</text></g>
<g transform="translate(565.3,553.8)" class="t"><path d="M2.10,0 V-6.05 L0.14,-4.15" fill="none" stroke-width="1.30" stroke-linecap="butt" stroke-linejoin="miter"/><text x="3.70" y="0" font-size="9.57" textLength="3.51" lengthAdjust="spacingAndGlyphs">5</text><text x="8.19" y="0" font-size="9.57" textLength="3.51" lengthAdjust="spacingAndGlyphs">0</text></g>
<g transform="translate(583.3,553.8)" class="t"><path d="M2.28,0 V-6.05 L0.15,-4.15" fill="none" stroke-width="1.30" stroke-linecap="butt" stroke-linejoin="miter"/><text x="4.01" y="0" font-size="9.57" textLength="3.81" lengthAdjust="spacingAndGlyphs">5</text><text x="8.89" y="0" font-size="9.57" textLength="3.81" lengthAdjust="spacingAndGlyphs">0</text></g>
<g transform="translate(602.4,553.8)" class="t"><path d="M2.30,0 V-6.05 L0.15,-4.15" fill="none" stroke-width="1.30" stroke-linecap="butt" stroke-linejoin="miter"/><text x="4.04" y="0" font-size="9.57" textLength="3.84" lengthAdjust="spacingAndGlyphs">5</text><text x="8.96" y="0" font-size="9.57" textLength="3.84" lengthAdjust="spacingAndGlyphs">0</text></g>
<g transform="translate(621.5,553.8)" class="t"><text x="0.00" y="0" font-size="9.57" textLength="4.47" lengthAdjust="spacingAndGlyphs">2</text><text x="5.73" y="0" font-size="9.57" textLength="4.47" lengthAdjust="spacingAndGlyphs">0</text></g>
<g transform="translate(574.6,601.2)" class="t"><text x="0.00" y="0" font-size="12.43" textLength="5.45" lengthAdjust="spacingAndGlyphs">4</text><rect x="10.69" y="-4.79" width="5.03" height="1.30" class="f"/><text x="20.95" y="0" font-size="12.43" textLength="5.45" lengthAdjust="spacingAndGlyphs">4</text></g>
<line x1="567.6" y1="604.2" x2="603" y2="604.2" class="o"/>
<line x1="530.7" y1="618.9" x2="562" y2="618.9" class="o"/>
<line x1="562" y1="618.9" x2="635" y2="618.9" class="d"/>
<line x1="638.5" y1="618.9" x2="649.7" y2="618.9" class="o"/>
<path d="M561.9,618.9 L564.5,621.9 H617.5 L620.5,618.9" class="o"/>
<line x1="580.3" y1="621.9" x2="580.3" y2="648.7" class="o"/>
<line x1="600.5" y1="621.9" x2="600.5" y2="648.7" class="o"/>
<line x1="580.3" y1="625.5" x2="600.5" y2="625.5" class="d"/>
<line x1="591.3" y1="613" x2="591.3" y2="652.7" class="dd"/>
<line x1="530.7" y1="648.7" x2="649.7" y2="648.7" class="o"/>
<path d="M530.7,611 V627.5 L529.8,629 L531.3,630.5 V654.9" class="m"/>
<path d="M649.7,613.2 V631 L650.8,632.5 L649.7,634 V651.4" class="m"/>
<line x1="653.2" y1="618.9" x2="674.3" y2="618.9" class="d"/>
<line x1="653.2" y1="621" x2="674.3" y2="621" class="d"/>
<line x1="653.2" y1="623" x2="674.3" y2="623" class="d"/>
<line x1="653.2" y1="625.9" x2="674.3" y2="625.9" class="d"/>
<line x1="674.3" y1="605.7" x2="674.3" y2="636.9" class="d"/>
<line x1="672.0" y1="621.1999999999999" x2="676.5999999999999" y2="616.6" class="k"/>
<line x1="672.0" y1="625.3" x2="676.5999999999999" y2="620.7" class="k"/>
<g transform="translate(671.6,616.7) rotate(-90)" class="t"><text x="0.00" y="0" font-size="11.86" textLength="4.25" lengthAdjust="spacingAndGlyphs">2</text><text x="5.45" y="0" font-size="11.86" textLength="4.25" lengthAdjust="spacingAndGlyphs">0</text></g>
<g transform="translate(671.6,636.9) rotate(-90)" class="t"><text x="0.00" y="0" font-size="11.86" textLength="4.25" lengthAdjust="spacingAndGlyphs">2</text><text x="5.45" y="0" font-size="11.86" textLength="4.25" lengthAdjust="spacingAndGlyphs">0</text></g>
<line x1="694" y1="612.3" x2="694" y2="652.7" class="d"/>
<line x1="674.3" y1="618.9" x2="696.2" y2="618.9" class="d"/>
<line x1="654.5" y1="648.2" x2="698.4" y2="648.2" class="d"/>
<line x1="691" y1="621.9" x2="697" y2="615.9" class="k"/>
<line x1="691" y1="651.2" x2="697" y2="645.2" class="k"/>
<g transform="translate(691,643.9) rotate(-90)" class="t"><text x="0.00" y="0" font-size="12.57" textLength="4.55" lengthAdjust="spacingAndGlyphs">2</text><text x="5.83" y="0" font-size="12.57" textLength="4.55" lengthAdjust="spacingAndGlyphs">5</text><text x="11.65" y="0" font-size="12.57" textLength="4.55" lengthAdjust="spacingAndGlyphs">0</text></g>
</svg>
</body></html>
